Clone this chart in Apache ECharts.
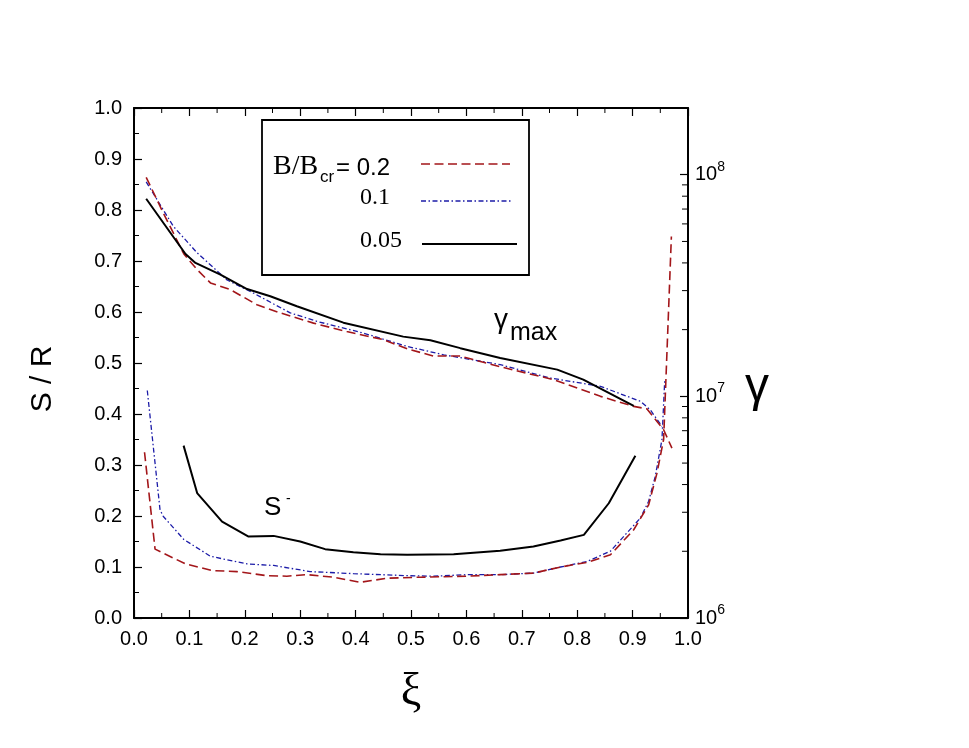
<!DOCTYPE html>
<html>
<head>
<meta charset="utf-8">
<script src="https://cdn.jsdelivr.net/npm/echarts@6/dist/echarts.min.js"></script>
<style>
html,body{margin:0;padding:0;background:#fff;}
#chart{width:969px;height:748px;}
</style>
</head>
<body>
<div id="chart"></div>
<script>
// ---- data ----
// gamma_max curves (right, log axis)
var xiGamma02 = [0.022,0.053,0.090,0.114,0.138,0.174,0.222,0.264,0.324,0.384,0.451,0.493,0.540,0.589,0.661,0.757,0.842,0.902,0.926,0.956,0.971];
var gamma02   = [9.73e7,6.71e7,4.39e7,3.73e7,3.25e7,3.03e7,2.59e7,2.38e7,2.14e7,1.96e7,1.80e7,1.64e7,1.52e7,1.52e7,1.36e7,1.19e7,1.00e7,9.01e6,8.78e6,7.07e6,5.84e6];
var xiGamma01 = [0.022,0.071,0.114,0.168,0.216,0.282,0.330,0.414,0.493,0.559,0.661,0.751,0.842,0.914,0.932,0.953];
var gamma01   = [9.28e7,5.85e7,4.44e7,3.35e7,2.92e7,2.38e7,2.18e7,1.93e7,1.68e7,1.54e7,1.39e7,1.21e7,1.11e7,9.50e6,8.69e6,7.33e6];
var xiGamma005 = [0.022,0.093,0.111,0.156,0.204,0.246,0.294,0.378,0.486,0.535,0.589,0.661,0.764,0.811,0.902];
var gamma005   = [7.79e7,4.39e7,4.00e7,3.54e7,3.05e7,2.83e7,2.55e7,2.15e7,1.86e7,1.79e7,1.65e7,1.49e7,1.32e7,1.19e7,9.06e6];
// S- curves (left axis, S/R)
var xiS02 = [0.019,0.038,0.093,0.141,0.186,0.240,0.276,0.312,0.360,0.408,0.457,0.517,0.601,0.661,0.721,0.770,0.818,0.860,0.902,0.929,0.944,0.956,0.970];
var s02   = [0.325,0.135,0.106,0.093,0.091,0.083,0.082,0.085,0.080,0.070,0.078,0.080,0.082,0.085,0.088,0.100,0.109,0.124,0.173,0.222,0.284,0.350,0.748];
var xiS01 = [0.024,0.047,0.053,0.090,0.138,0.204,0.252,0.318,0.396,0.493,0.541,0.601,0.661,0.721,0.770,0.818,0.860,0.914,0.929,0.941,0.953,0.958];
var s01   = [0.446,0.212,0.199,0.154,0.121,0.106,0.103,0.091,0.087,0.083,0.082,0.085,0.085,0.088,0.100,0.111,0.131,0.196,0.229,0.278,0.350,0.467];
var xiS005 = [0.0895,0.114,0.159,0.206,0.252,0.300,0.345,0.396,0.445,0.493,0.577,0.661,0.721,0.770,0.812,0.857,0.905];
var s005   = [0.338,0.245,0.189,0.160,0.161,0.150,0.135,0.129,0.125,0.124,0.125,0.132,0.140,0.152,0.163,0.225,0.318];
// minor tick values
var minorTicksLinear = [0.05,0.15,0.25,0.35,0.45,0.55,0.65,0.75,0.85,0.95];
var gammaMinorTicks = [2e6,3e6,4e6,5e6,6e6,7e6,8e6,9e6,2e7,3e7,4e7,5e7,6e7,7e7,8e7,9e7];
var legendLabels = ['0.2','0.1','0.05'];

function zip(xs, ys){ return xs.map(function(x,i){ return [x, ys[i]]; }); }

var RED = '#a3161a', BLUE = '#1c1ca8', BLACK = '#000';
var redType = [9,4.5], blueType = [5,2.5,1.5,2.5];
var SANS = '"Liberation Sans", Arial, sans-serif';
var SERIF = '"Liberation Serif", "Times New Roman", serif';

var chart = echarts.init(document.getElementById('chart'), null, {renderer:'canvas'});

var gLogMin = 1e6, gLogMax = 2e8;

function axisBase(pos){
  return {
    type:'value', min:0, max:1, interval:0.1, position:pos,
    axisLine:{show:true, onZero:false, lineStyle:{color:'#000', width:2}},
    axisTick:{show:true, inside:true, length:8, lineStyle:{color:'#000', width:1.2}},
    splitLine:{show:false}, axisLabel:{show:false}
  };
}

// minor tick marks drawn through the axis scales (dx, dy = inward direction)
function minorTickSeries(data, yAxisIndex, dx, dy, len){
  return {
    type:'custom', xAxisIndex:0, yAxisIndex:yAxisIndex, data:data, silent:true, clip:false, z:5,
    renderItem:function(params, api){
      var p = api.coord([api.value(0), api.value(1)]);
      return {type:'line', shape:{x1:p[0], y1:p[1], x2:p[0]+dx*len, y2:p[1]+dy*len},
              style:{stroke:'#000', lineWidth:1}};
    }
  };
}

var xBottom = axisBase('bottom');
xBottom.axisLabel = {show:true, margin:11, color:'#000', fontFamily:SANS, fontSize:20,
  formatter:function(v){ return v.toFixed(1); }};
xBottom.name = 'ξ'; xBottom.nameLocation = 'middle'; xBottom.nameGap = 52;
xBottom.nameTextStyle = {fontFamily:SERIF, fontSize:46, color:'#000'};

var yLeft = axisBase('left');
yLeft.axisLabel = {show:true, margin:12, color:'#000', fontFamily:SANS, fontSize:20,
  formatter:function(v){ return v.toFixed(1); }};
yLeft.name = 'S / R'; yLeft.nameLocation = 'middle'; yLeft.nameGap = 76; yLeft.nameRotate = 90;
yLeft.nameTextStyle = {fontFamily:SANS, fontSize:30, color:'#000', padding:[0,32,0,0]};

var option = {
  backgroundColor: '#fff',
  animation: false,
  grid: {left:134, right:281, top:108, bottom:130, containLabel:false},
  xAxis: [xBottom, axisBase('top')],
  yAxis: [
    yLeft,
    {
      type:'log', logBase:10, min:gLogMin, max:gLogMax, position:'right',
      axisLine:{show:true, onZero:false, lineStyle:{color:'#000', width:2}},
      axisTick:{show:true, inside:true, length:8, lineStyle:{color:'#000', width:1.2}},
      splitLine:{show:false},
      axisLabel:{margin:7, color:'#000', fontFamily:SANS, showMaxLabel:false,
        formatter:function(v){ var e=Math.round(Math.log10(v)); return '{a|10}{b|'+e+'}'; },
        rich:{
          a:{fontFamily:SANS, fontSize:20, lineHeight:30, color:'#000'},
          b:{fontFamily:SANS, fontSize:14, lineHeight:14, verticalAlign:'top', color:'#000'}
        }}
    }
  ],
  series: [
    {name:'gamma 0.1', type:'line', xAxisIndex:0, yAxisIndex:1, data:zip(xiGamma01, gamma01),
     showSymbol:false, symbol:'none', lineStyle:{color:BLUE, width:1.3, type:blueType}},
    {name:'gamma 0.2', type:'line', xAxisIndex:0, yAxisIndex:1, data:zip(xiGamma02, gamma02),
     showSymbol:false, symbol:'none', lineStyle:{color:RED, width:1.6, type:redType}},
    {name:'gamma 0.05', type:'line', xAxisIndex:0, yAxisIndex:1, data:zip(xiGamma005, gamma005),
     showSymbol:false, symbol:'none', lineStyle:{color:BLACK, width:2}},
    {name:'S 0.1', type:'line', xAxisIndex:0, yAxisIndex:0, data:zip(xiS01, s01),
     showSymbol:false, symbol:'none', lineStyle:{color:BLUE, width:1.3, type:blueType}},
    {name:'S 0.2', type:'line', xAxisIndex:0, yAxisIndex:0, data:zip(xiS02, s02),
     showSymbol:false, symbol:'none', lineStyle:{color:RED, width:1.6, type:redType}},
    {name:'S 0.05', type:'line', xAxisIndex:0, yAxisIndex:0, data:zip(xiS005, s005),
     showSymbol:false, symbol:'none', lineStyle:{color:BLACK, width:2}},
    // minor ticks
    minorTickSeries(minorTicksLinear.map(function(v){ return [0, v]; }), 0, 1, 0, 5),
    minorTickSeries(minorTicksLinear.map(function(v){ return [v, 0]; }), 0, 0, -1, 5),
    minorTickSeries(minorTicksLinear.map(function(v){ return [v, 1]; }), 0, 0, 1, 5),
    minorTickSeries(gammaMinorTicks.map(function(v){ return [1, v]; }), 1, -1, 0, 6)
  ],
  graphic: [
    // right axis title
    {type:'text', x:745, y:388, z:11, style:{text:'γ', font:'48px '+SANS, fill:'#000', verticalAlign:'middle'}},
    // legend box
    {type:'rect', shape:{x:262, y:120, width:267, height:155},
     style:{fill:'#fff', stroke:'#000', lineWidth:1.8}, z:10},
    {type:'text', x:273, y:167, z:11, style:{text:'B/B', font:'28px '+SERIF, fill:'#000', verticalAlign:'middle'}},
    {type:'text', x:320, y:177, z:11, style:{text:'cr', font:'17px '+SANS, fill:'#000', verticalAlign:'middle'}},
    {type:'text', x:336, y:168, z:11, style:{text:'= '+legendLabels[0], font:'24px '+SANS, fill:'#000', verticalAlign:'middle'}},
    {type:'text', x:360, y:198, z:11, style:{text:legendLabels[1], font:'24px '+SERIF, fill:'#000', verticalAlign:'middle'}},
    {type:'text', x:360, y:241, z:11, style:{text:legendLabels[2], font:'24px '+SERIF, fill:'#000', verticalAlign:'middle'}},
    {type:'line', z:11, shape:{x1:421, y1:164, x2:510, y2:164}, style:{stroke:RED, lineWidth:1.6, lineDash:redType}},
    {type:'line', z:11, shape:{x1:421, y1:201, x2:512, y2:201}, style:{stroke:BLUE, lineWidth:1.3, lineDash:blueType}},
    {type:'line', z:11, shape:{x1:422, y1:244, x2:517, y2:244}, style:{stroke:BLACK, lineWidth:2}},
    // annotations
    {type:'text', x:494, y:320, z:11, style:{text:'γ', font:'28px '+SANS, fill:'#000', verticalAlign:'middle'}},
    {type:'text', x:510, y:333, z:11, style:{text:'max', font:'25px '+SANS, fill:'#000', verticalAlign:'middle'}},
    {type:'text', x:264, y:508, z:11, style:{text:'S', font:'26px '+SANS, fill:'#000', verticalAlign:'middle'}},
    {type:'text', x:286, y:499, z:11, style:{text:'-', font:'14px '+SANS, fill:'#000', verticalAlign:'middle'}}
  ]
};
chart.setOption(option);
</script>
</body>
</html>
